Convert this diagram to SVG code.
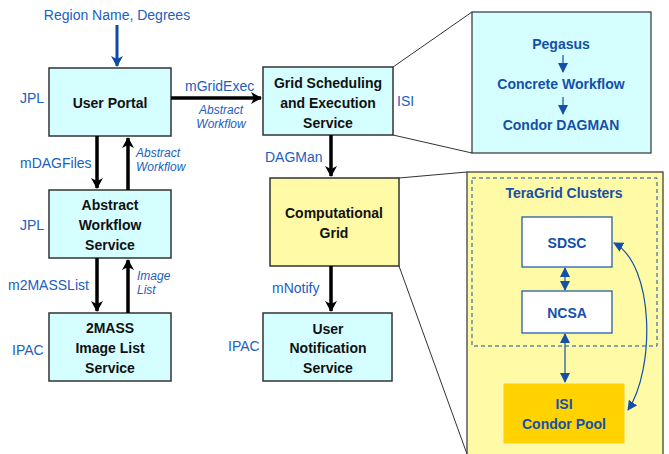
<svg xmlns="http://www.w3.org/2000/svg" width="669" height="454" viewBox="0 0 669 454">
<defs>
<style>
.box{fill:#d4feff;stroke:#333;stroke-width:1.5}
.ybox{fill:#fffaa6;stroke:#333;stroke-width:1.2}
.t{font-family:"Liberation Sans",Arial,sans-serif;font-weight:bold;font-size:14px;fill:#111;text-anchor:middle}
.bt{font-family:"Liberation Sans",Arial,sans-serif;font-weight:bold;font-size:14px;fill:#1450a8;text-anchor:middle}
.lbl{font-family:"Liberation Sans",Arial,sans-serif;font-size:14px;fill:#2060c0}
.it{font-family:"Liberation Sans",Arial,sans-serif;font-style:italic;font-size:12px;fill:#2060c0}
.blk{stroke:#000;stroke-width:3.5;fill:none}
.thin{stroke:#333;stroke-width:1;fill:none}
.bl{stroke:#1450a8;stroke-width:1.2;fill:none}
</style>
<marker id="ah" markerWidth="12" markerHeight="12" refX="10" refY="6" orient="auto" markerUnits="userSpaceOnUse"><path d="M0,0 L11,6 L0,12 L3,6 z" fill="#000"/></marker>
<marker id="bh" markerWidth="12" markerHeight="12" refX="10" refY="6" orient="auto" markerUnits="userSpaceOnUse"><path d="M0,0 L11,6 L0,12 L3,6 z" fill="#0d4aa6"/></marker>
<marker id="sh" markerWidth="10" markerHeight="10" refX="9" refY="5" orient="auto-start-reverse" markerUnits="userSpaceOnUse"><path d="M0,0 L10,5 L0,10 z" fill="#1450a8"/></marker>
</defs>
<rect width="669" height="454" fill="#fff"/>

<g id="zoom-lines">
<line class="thin" x1="393" y1="67" x2="472" y2="12"/>
<line class="thin" x1="393" y1="135" x2="472" y2="153"/>
<line class="thin" x1="399" y1="178" x2="467" y2="172"/>
<line class="thin" x1="399" y1="266" x2="467" y2="454"/>
</g>

<g id="pegasus-detail">
<rect x="472" y="12" width="179" height="141" fill="#d4feff" stroke="#333" stroke-width="1.2"/>
<text class="bt" x="561" y="49">Pegasus</text>
<line class="bl" x1="563" y1="55" x2="563" y2="72" marker-end="url(#sh)"/>
<text class="bt" x="561" y="89">Concrete Workflow</text>
<line class="bl" x1="563" y1="97" x2="563" y2="114" marker-end="url(#sh)"/>
<text class="bt" x="561" y="130">Condor DAGMAN</text>
</g>

<g id="teragrid-detail">
<rect x="467" y="172" width="196" height="290" class="ybox"/>
<rect x="472" y="178" width="185" height="168" fill="none" stroke="#1450a8" stroke-width="1" stroke-dasharray="4,3"/>
<text class="bt" x="564" y="198">TeraGrid Clusters</text>
</g>
<g id="sdsc"><rect x="522" y="217" width="90" height="50" fill="#fff" stroke="#1450a8" stroke-width="1.2"/><text class="bt" x="567" y="248">SDSC</text></g>
<g id="ncsa"><rect x="522" y="291" width="90" height="42" fill="#fff" stroke="#1450a8" stroke-width="1.2"/><text class="bt" x="567" y="318">NCSA</text></g>
<g id="isi-pool"><rect x="503" y="383" width="122" height="61" fill="#ffd200" stroke="#fff6c0" stroke-width="1"/><text class="bt" x="564" y="409">ISI</text><text class="bt" x="564" y="429">Condor Pool</text></g>

<g id="region-input"><text class="lbl" x="117" y="20" text-anchor="middle">Region Name, Degrees</text></g>

<g id="user-portal"><rect class="box" x="49" y="68" width="122" height="68"/><text class="t" x="110" y="108">User Portal</text></g>
<g id="abstract-workflow-service"><rect class="box" x="49" y="190" width="122" height="68"/><text class="t" x="110" y="210">Abstract</text><text class="t" x="110" y="230">Workflow</text><text class="t" x="110" y="250">Service</text></g>
<g id="image-list-service"><rect class="box" x="49" y="313" width="122" height="68"/><text class="t" x="110" y="333">2MASS</text><text class="t" x="110" y="353">Image List</text><text class="t" x="110" y="373">Service</text></g>
<g id="grid-scheduling"><rect class="box" x="263" y="67" width="130" height="68"/><text class="t" x="328" y="88">Grid Scheduling</text><text class="t" x="328" y="108">and Execution</text><text class="t" x="328" y="128">Service</text></g>
<g id="computational-grid"><rect class="box" style="fill:#fffaa6" x="270" y="178" width="129" height="88"/><text class="t" x="334" y="218">Computational</text><text class="t" x="334" y="238">Grid</text></g>
<g id="user-notification"><rect class="box" x="263" y="313" width="129" height="68"/><text class="t" x="328" y="334">User</text><text class="t" x="328" y="353">Notification</text><text class="t" x="328" y="373">Service</text></g>

<g id="site-labels">
<text class="lbl" x="20" y="103">JPL</text>
<text class="lbl" x="20" y="230">JPL</text>
<text class="lbl" x="12" y="355">IPAC</text>
<text class="lbl" x="228" y="351">IPAC</text>
<text class="lbl" x="397" y="106">ISI</text>
</g>

<g id="connectors">
<line x1="117" y1="25" x2="117" y2="66" stroke="#0d4aa6" stroke-width="3" marker-end="url(#bh)"/>
<line class="blk" x1="171" y1="98" x2="261" y2="98" marker-end="url(#ah)"/>
<line class="blk" x1="97" y1="136" x2="97" y2="188" marker-end="url(#ah)"/>
<line class="blk" x1="128" y1="190" x2="128" y2="138" marker-end="url(#ah)"/>
<line class="blk" x1="97" y1="258" x2="97" y2="311" marker-end="url(#ah)"/>
<line class="blk" x1="128" y1="313" x2="128" y2="260" marker-end="url(#ah)"/>
<line class="blk" x1="331" y1="135" x2="331" y2="176" marker-end="url(#ah)"/>
<line class="blk" x1="331" y1="266" x2="331" y2="311" marker-end="url(#ah)"/>
<line class="bl" x1="565" y1="268" x2="565" y2="290" marker-start="url(#sh)" marker-end="url(#sh)"/>
<line class="bl" x1="565" y1="334" x2="565" y2="382" marker-start="url(#sh)" marker-end="url(#sh)"/>
<path class="bl" d="M614,243 C655,265 655,370 628,410" marker-start="url(#sh)" marker-end="url(#sh)"/>
<text class="lbl" x="185" y="91">mGridExec</text>
<text class="it" x="221" y="114" text-anchor="middle">Abstract</text>
<text class="it" x="221" y="128" text-anchor="middle">Workflow</text>
<text class="lbl" x="20" y="168">mDAGFiles</text>
<text class="it" x="136" y="157">Abstract</text>
<text class="it" x="136" y="171">Workflow</text>
<text class="lbl" x="8" y="290">m2MASSList</text>
<text class="it" x="137" y="280">Image</text>
<text class="it" x="137" y="294">List</text>
<text class="lbl" x="265" y="162">DAGMan</text>
<text class="lbl" x="272" y="293">mNotify</text>
</g>
</svg>
